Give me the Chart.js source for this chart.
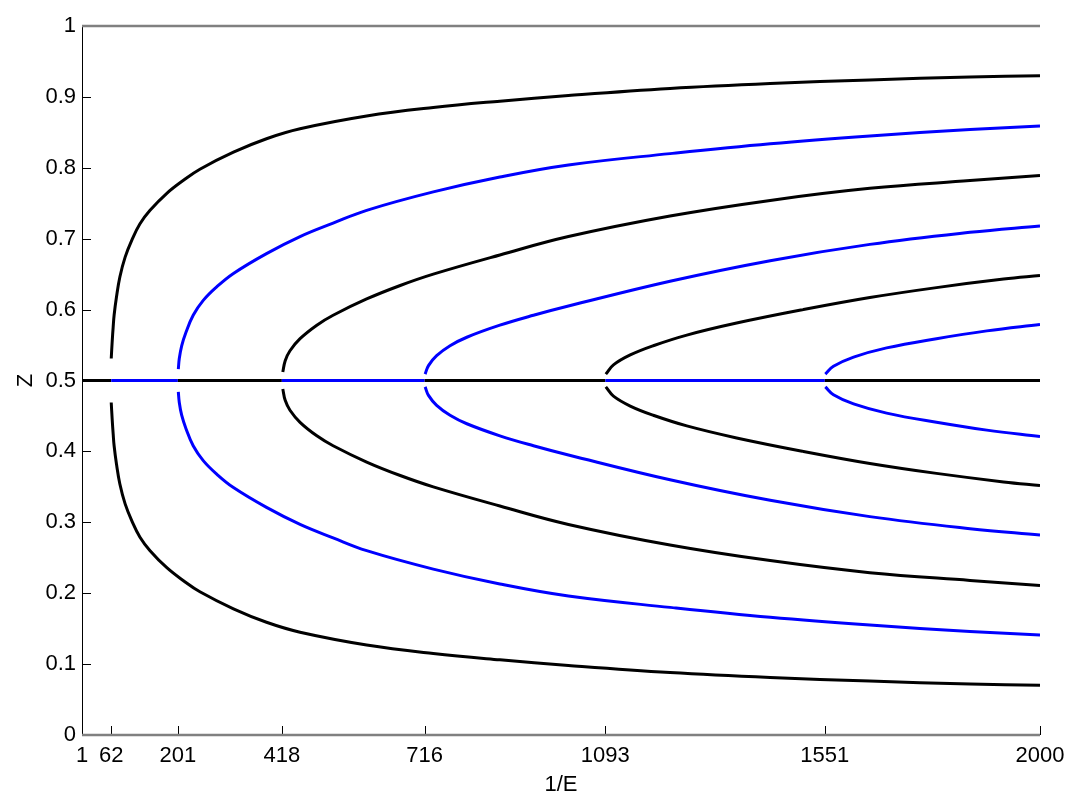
<!DOCTYPE html>
<html>
<head>
<meta charset="utf-8">
<script src="https://cdn.jsdelivr.net/npm/chart.js@4/dist/chart.umd.min.js"></script>
<style>
  html, body { margin: 0; padding: 0; background: #fff; }
  canvas { display: block; }
</style>
</head>
<body>
<canvas id="bifChart" width="1082" height="804"></canvas>
<script>
// tick labels on the axes
const xTicks = [1, 62, 201, 418, 716, 1093, 1551, 2000];
const yTicks = [0, 0.1, 0.2, 0.3, 0.4, 0.5, 0.6, 0.7, 0.8, 0.9, 1];

// trivial branch Z = 0.5, colour changes at every bifurcation point
const midX = [1, 62, 201, 418, 716, 1093, 1551, 2000];
const midZ = [0.5, 0.5, 0.5, 0.5, 0.5, 0.5, 0.5, 0.5];

// branch born at 1/E = 62 (black)
const b62X  = [62, 64, 66, 68, 73, 80, 91, 105, 122, 143, 178, 212, 247, 317, 386, 456, 595, 734, 873, 1016, 1228, 1437, 1645, 1854, 2000];
const b62Up = [0.531, 0.555, 0.575, 0.592, 0.618, 0.646, 0.674, 0.698, 0.721, 0.740, 0.764, 0.782, 0.798, 0.822, 0.841, 0.855, 0.873, 0.885, 0.894, 0.902, 0.912, 0.919, 0.924, 0.928, 0.930];
const b62Lo = [0.469, 0.445, 0.425, 0.408, 0.382, 0.354, 0.326, 0.302, 0.279, 0.260, 0.236, 0.218, 0.202, 0.178, 0.159, 0.145, 0.127, 0.115, 0.106, 0.098, 0.088, 0.081, 0.076, 0.072, 0.070];

// branch born at 201 (blue)
const b201X  = [202, 204, 209, 218, 233, 254, 282, 317, 386, 456, 525, 595, 734, 873, 1016, 1228, 1437, 1645, 1854, 2000];
const b201Up = [0.516, 0.531, 0.549, 0.568, 0.592, 0.613, 0.632, 0.651, 0.679, 0.703, 0.722, 0.740, 0.766, 0.787, 0.804, 0.820, 0.834, 0.845, 0.854, 0.859];
const b201Lo = [0.484, 0.469, 0.451, 0.432, 0.408, 0.387, 0.368, 0.349, 0.321, 0.297, 0.278, 0.260, 0.234, 0.213, 0.196, 0.180, 0.166, 0.155, 0.146, 0.141];

// branch born at 418 (black)
const b418X  = [420, 425, 435, 456, 491, 525, 595, 665, 734, 873, 1016, 1228, 1437, 1645, 1854, 2000];
const b418Up = [0.512, 0.528, 0.542, 0.559, 0.578, 0.592, 0.615, 0.634, 0.650, 0.677, 0.703, 0.732, 0.754, 0.771, 0.782, 0.789];
const b418Lo = [0.488, 0.472, 0.458, 0.441, 0.422, 0.408, 0.385, 0.366, 0.350, 0.323, 0.297, 0.268, 0.246, 0.229, 0.218, 0.211];

// branch born at 716 (blue)
const b716X  = [717, 724, 741, 769, 804, 873, 943, 1016, 1228, 1437, 1645, 1854, 2000];
const b716Up = [0.509, 0.521, 0.535, 0.549, 0.561, 0.578, 0.592, 0.605, 0.640, 0.669, 0.692, 0.709, 0.718];
const b716Lo = [0.491, 0.479, 0.465, 0.451, 0.439, 0.422, 0.408, 0.395, 0.360, 0.331, 0.308, 0.291, 0.282];

// branch born at 1093 (black)
const b1093X  = [1094, 1110, 1145, 1193, 1263, 1367, 1506, 1645, 1784, 1924, 2000];
const b1093Up = [0.509, 0.522, 0.536, 0.549, 0.564, 0.581, 0.600, 0.617, 0.631, 0.643, 0.648];
const b1093Lo = [0.491, 0.478, 0.464, 0.451, 0.436, 0.419, 0.400, 0.383, 0.369, 0.357, 0.352];

// branch born at 1551 (blue)
const b1551X  = [1552, 1569, 1611, 1680, 1784, 1889, 2000];
const b1551Up = [0.509, 0.520, 0.533, 0.546, 0.559, 0.570, 0.579];
const b1551Lo = [0.491, 0.480, 0.467, 0.454, 0.441, 0.430, 0.421];

const BLACK = '#000000';
const BLUE = '#0000ff';
const FONT = { family: '"Liberation Sans", Arial, sans-serif', size: 22 };

function toPoints(xs, zs) {
    return xs.map((x, i) => ({ x: x, y: zs[i] }));
}

function branch(xs, zs, color) {
    return {
        data: toPoints(xs, zs),
        showLine: true,
        borderColor: color,
        backgroundColor: color,
        borderWidth: 3,
        pointRadius: 0,
        tension: 0.4
    };
}

const branches = [
    [b62X, b62Up, b62Lo, BLACK],
    [b201X, b201Up, b201Lo, BLUE],
    [b418X, b418Up, b418Lo, BLACK],
    [b716X, b716Up, b716Lo, BLUE],
    [b1093X, b1093Up, b1093Lo, BLACK],
    [b1551X, b1551Up, b1551Lo, BLUE]
];

const datasets = [];
branches.forEach(([xs, up, lo, color]) => {
    datasets.push(branch(xs, up, color));
    datasets.push(branch(xs, lo, color));
});

// Z = 0.5 line, alternating colours per segment
datasets.push({
    data: toPoints(midX, midZ),
    showLine: true,
    borderWidth: 3,
    pointRadius: 0,
    borderColor: BLACK,
    segment: {
        borderColor: ctx => (ctx.p0DataIndex % 2 ? BLUE : BLACK)
    }
});

// frame: black left axis, grey top / bottom lines, ticks pointing inward
const framePlugin = {
    id: 'frame',
    afterDatasetsDraw(chart) {
        const { ctx, chartArea: a, scales } = chart;
        ctx.save();
        ctx.strokeStyle = BLACK;
        ctx.lineWidth = 1;
        xTicks.forEach(v => {
            const px = Math.round(scales.x.getPixelForValue(v)) + 0.5;
            ctx.beginPath();
            ctx.moveTo(px, a.bottom);
            ctx.lineTo(px, a.bottom - 9);
            ctx.stroke();
        });
        yTicks.forEach(v => {
            const py = Math.round(scales.y.getPixelForValue(v)) + 0.5;
            ctx.beginPath();
            ctx.moveTo(a.left, py);
            ctx.lineTo(a.left + 9, py);
            ctx.stroke();
        });
        ctx.beginPath();
        ctx.moveTo(a.left + 0.5, a.top);
        ctx.lineTo(a.left + 0.5, a.bottom);
        ctx.stroke();

        ctx.strokeStyle = '#808080';
        ctx.lineWidth = 2.5;
        ctx.beginPath();
        ctx.moveTo(a.left, a.top);
        ctx.lineTo(a.right, a.top);
        ctx.moveTo(a.left, a.bottom);
        ctx.lineTo(a.right, a.bottom);
        ctx.stroke();
        ctx.restore();
    }
};

const ctx = document.getElementById('bifChart').getContext('2d');
new Chart(ctx, {
    type: 'scatter',
    data: { datasets },
    options: {
        responsive: false,
        animation: false,
        layout: { padding: { left: 0, right: 42, top: 26, bottom: 0 } },
        plugins: {
            legend: { display: false },
            tooltip: { enabled: false }
        },
        scales: {
            x: {
                type: 'linear',
                min: 1,
                max: 2000,
                afterBuildTicks: scale => { scale.ticks = xTicks.map(v => ({ value: v })); },
                afterFit: scale => { scale.height = 69; },
                grid: { display: false, drawTicks: false },
                border: { display: false },
                ticks: {
                    autoSkip: false,
                    maxRotation: 0,
                    padding: 8,
                    color: BLACK,
                    font: FONT,
                    callback: v => String(v)
                },
                title: {
                    display: true,
                    text: '1/E',
                    color: BLACK,
                    font: FONT,
                    padding: { top: 0, bottom: 6 }
                }
            },
            y: {
                type: 'linear',
                min: 0,
                max: 1,
                afterBuildTicks: scale => { scale.ticks = yTicks.map(v => ({ value: v })); },
                afterFit: scale => { scale.width = 82; },
                grid: { display: false, drawTicks: false },
                border: { display: false },
                ticks: {
                    autoSkip: false,
                    padding: 6,
                    color: BLACK,
                    font: FONT,
                    callback: v => String(v)
                },
                title: {
                    display: true,
                    text: 'Z',
                    color: BLACK,
                    font: FONT,
                    padding: { top: 13, bottom: 0 }
                }
            }
        }
    },
    plugins: [framePlugin]
});
</script>
</body>
</html>
